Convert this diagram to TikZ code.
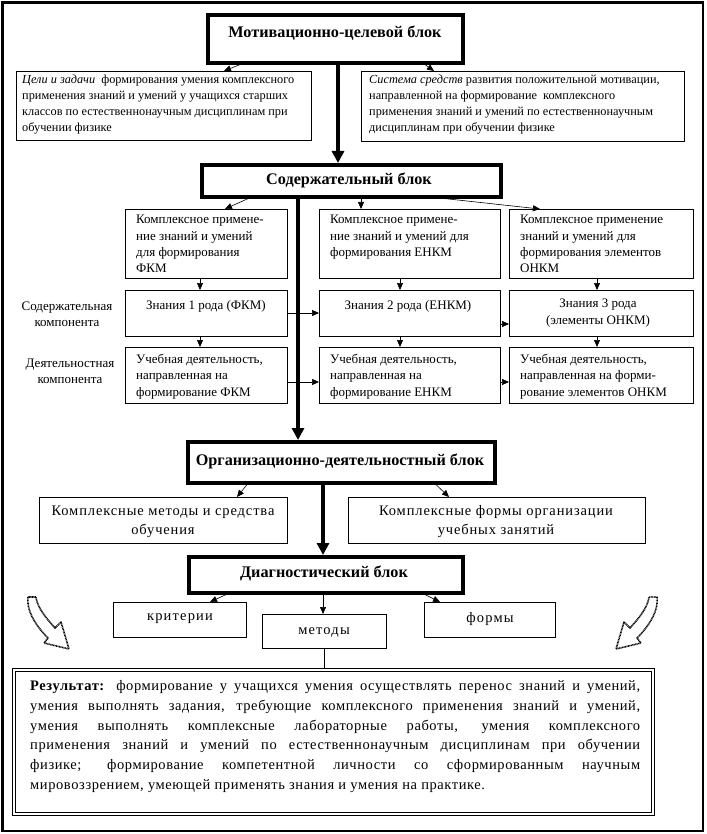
\documentclass[tikz,border=0pt]{standalone}
\usepackage{fontspec}
\setmainfont{Liberation Serif}
\newfontfamily\spfont{Liberation Serif}[LetterSpace=4]
\newfontfamily\spfontb{Liberation Serif}[LetterSpace=6]
\newfontfamily\spfontc{Liberation Serif}[LetterSpace=8]
\usetikzlibrary{arrows.meta,calc}
\tikzset{
  bx/.style={draw, rectangle, line width=0.8pt, inner sep=0pt, anchor=north west},
  hb/.style={bx, line width=3.6pt},
  tx/.style={anchor=north west, inner sep=0pt, align=left},
  ct/.style={inner sep=0pt, align=center},
  hdr/.style={inner sep=0pt, font=\fontsize{16.2}{18}\selectfont\bfseries},
  ar/.style={line width=0.6pt, -{Triangle[length=7pt,width=6pt]}},
  tk/.style={line width=4.2pt, -{Triangle[length=12pt,width=12pt]}},
  hatch/.style={line width=1.6pt, dash pattern=on 0.9pt off 0.6pt, line join=round, fill=white},
  fa/.style={font=\fontsize{12.3}{16}\selectfont},
  fb/.style={font=\fontsize{13}{16.3}\selectfont},
  fc/.style={font=\spfontb\fontsize{14.5}{19}\selectfont},
  fd/.style={font=\spfontc\fontsize{14.5}{17}\selectfont},
}
\begin{document}
\begin{tikzpicture}[x=1pt,y=-1pt]
\useasboundingbox (0,0) rectangle (706,834);
\draw[line width=2.5pt] (2.5,2.5) rectangle (703,831);

% header blocks
\node[hb, minimum width=255pt, minimum height=48pt] (M) at (206,13) {};
\node[hdr] (Mt) at (335,33) {Мотивационно-целевой блок};
\node[hb, minimum width=299pt, minimum height=32pt] (S) at (200,163) {};
\node[hdr] (St) at (349,180) {Содержательный блок};
\node[hb, minimum width=307pt, minimum height=41pt] (O) at (186,440) {};
\node[hdr] (Ot) at (340,461) {Организационно-деятельностный блок};
\node[hb, minimum width=274pt, minimum height=36pt] (D) at (187,555) {};
\node[hdr] (Dt) at (324,573) {Диагностический блок};

% top text boxes
\node[bx, minimum width=295pt, minimum height=69pt] (L1) at (16,71) {};
\node[tx, fa] (L1t) at (22,75) {\textit{Цели и задачи}\ \ формирования умения комплексного\\применения знаний и умений у учащихся старших\\классов по естественнонаучным дисциплинам при\\обучении физике};
\node[bx, minimum width=323pt, minimum height=70pt] (R1) at (361,71) {};
\node[tx, fa] (R1t) at (369,75) {\textit{Система средств} развития положительной мотивации,\\направленной на формирование\ \ комплексного\\применения знаний и умений по естественнонаучным\\дисциплинам при обучении физике};

% column boxes
\node[bx, minimum width=162pt, minimum height=69pt] (C1a) at (125,209) {};
\node[bx, minimum width=181pt, minimum height=69pt] (C2a) at (319,209) {};
\node[bx, minimum width=184pt, minimum height=69pt] (C3a) at (509,209) {};
\node[bx, minimum width=162pt, minimum height=46pt] (C1b) at (125,290) {};
\node[bx, minimum width=181pt, minimum height=46pt] (C2b) at (319,290) {};
\node[bx, minimum width=184pt, minimum height=46pt] (C3b) at (509,290) {};
\node[bx, minimum width=162pt, minimum height=56pt] (C1c) at (125,347) {};
\node[bx, minimum width=181pt, minimum height=56pt] (C2c) at (319,347) {};
\node[bx, minimum width=184pt, minimum height=56pt] (C3c) at (509,347) {};

\node[tx, fb] (C1at) at (136,215) {Комплексное примене-\\ние знаний и умений\\для формирования\\ФКМ};
\node[tx, fb] (C2at) at (330,215) {Комплексное примене-\\ние знаний и умений для\\формирования ЕНКМ};
\node[tx, fb] (C3at) at (520,215) {Комплексное применение\\знаний и умений для\\формирования элементов\\ОНКМ};
\node[ct, fb] (C1bt) at (206,306) {Знания 1 рода (ФКМ)};
\node[ct, fb] (C2bt) at (408,306) {Знания 2 рода (ЕНКМ)};
\node[ct, fb] (C3bt) at (598,313) {Знания 3 рода\\(элементы ОНКМ)};
\node[tx, fb] (C1ct) at (136,354) {Учебная деятельность,\\направленная на\\формирование ФКМ};
\node[tx, fb] (C2ct) at (330,354) {Учебная деятельность,\\направленная на\\формирование ЕНКМ};
\node[tx, fb] (C3ct) at (520,354) {Учебная деятельность,\\направленная на форми-\\рование элементов ОНКМ};

\node[ct, fb] (lab1) at (67,314) {Содержательная\\компонента};
\node[ct, fb] (lab2) at (70,371) {Деятельностная\\компонента};

% organisation level boxes
\node[bx, minimum width=248pt, minimum height=46pt] (MS) at (39,497) {};
\node[ct, fc] (MSt) at (163,522) {Комплексные методы и средства\\обучения};
\node[bx, minimum width=297pt, minimum height=46pt] (FO) at (348,497) {};
\node[ct, fc] (FOt) at (496,522) {Комплексные формы организации\\учебных занятий};

% diagnostic boxes
\node[bx, minimum width=133pt, minimum height=35pt] (K) at (113,602) {};
\node[ct, fd] (Kt) at (180,619) {критерии};
\node[bx, minimum width=124pt, minimum height=34pt] (Met) at (262,614) {};
\node[ct, fd] (Mett) at (324,632) {методы};
\node[bx, minimum width=131pt, minimum height=35pt] (F) at (424,602) {};
\node[ct, fd] (Ft) at (490,619) {формы};

% result box
\node[bx, line width=0.8pt, minimum width=642pt, minimum height=147pt] (Res) at (12,668) {};
\node[bx, line width=1.4pt, minimum width=636pt, minimum height=141pt] (Resi) at (15,671) {};
\node[tx, font=\spfont\fontsize{14.5}{19.9}\selectfont, text width=610pt, align=justify] (Rest) at (30,680)
{\hyphenpenalty=10000\emergencystretch=3em\textbf{Результат:} формирование у учащихся умения осуществлять перенос знаний и умений,\linebreak
умения выполнять задания, требующие комплексного применения знаний и умений,\linebreak
умения выполнять комплексные лабораторные работы, умения комплексного\linebreak
применения знаний и умений по естественнонаучным дисциплинам при обучении\linebreak
физике; формирование компетентной личности со сформированным научным\linebreak
мировоззрением, умеющей применять знания и умения на практике.};

% hatched curved arrows
\draw[hatch] (28,597) .. controls (26,612) and (38,628) .. (48,638) -- (44,643) -- (69,649) -- (61,622) -- (55,628) .. controls (46,618) and (37,607) .. (36,597) -- cycle;
\draw[hatch] (657,597) .. controls (659,612) and (647,628) .. (637,638) -- (641,643) -- (616,649) -- (624,622) -- (630,628) .. controls (639,618) and (648,607) .. (649,597) -- cycle;

% connectors
\draw[ar] ($(M.south west)+(34,0)$) -- ($(L1.north west)+(208,0)$);
\draw[ar] ($(M.south west)+(219,0)$) -- ($(R1.north west)+(73,0)$);
\draw[tk] ($(M.south west)+(132,0)$) -- ($(S.north west)+(138,0)$);
\draw[ar] ($(S.south west)+(48,0)$) -- ($(C1a.north west)+(100,0)$);
\draw[ar] ($(S.south west)+(161,0)$) -- ($(C2a.north west)+(42,0)$);
\draw[ar] ($(S.south west)+(245,0)$) -- ($(C3a.north west)+(31,0)$);
\draw[tk] ($(S.south west)+(98,0)$) -- ($(O.north west)+(112,0)$);

\draw[ar] ($(C1a.south west)+(75,0)$) -- ($(C1b.north west)+(75,0)$);
\draw[ar] ($(C1b.south west)+(75,0)$) -- ($(C1c.north west)+(75,0)$);
\draw[ar] ($(C2a.south west)+(81,0)$) -- ($(C2b.north west)+(81,0)$);
\draw[ar] ($(C2b.south west)+(81,0)$) -- ($(C2c.north west)+(81,0)$);
\draw[ar] ($(C3a.south west)+(88,0)$) -- ($(C3b.north west)+(88,0)$);
\draw[ar] ($(C3b.south west)+(88,0)$) -- ($(C3c.north west)+(88,0)$);

\draw[ar] ($(C1b.north east)+(0,23)$) -- ($(C2b.north west)+(0,23)$);
\draw[ar] ($(C2b.north east)+(0,34)$) -- ($(C3b.north west)+(0,34)$);
\draw[ar] ($(C1c.north east)+(0,35)$) -- ($(C2c.north west)+(0,35)$);
\draw[ar] ($(C2c.north east)+(0,35)$) -- ($(C3c.north west)+(0,35)$);

\draw[ar] ($(O.south west)+(61,0)$) -- ($(MS.north west)+(198,0)$);
\draw[ar] ($(O.south west)+(250,0)$) -- ($(FO.north west)+(101,0)$);
\draw[tk] ($(O.south west)+(137,0)$) -- ($(D.north west)+(136,0)$);

\draw[ar] ($(D.south west)+(39,0)$) -- ($(K.north west)+(97,0)$);
\draw[ar] ($(D.south west)+(136,0)$) -- ($(Met.north west)+(61,0)$);
\draw[ar] ($(D.south west)+(238,0)$) -- ($(F.north west)+(16,0)$);
\draw[line width=0.6pt] (Met.south) -- (Met.south |- Res.north);
\end{tikzpicture}
\end{document}
